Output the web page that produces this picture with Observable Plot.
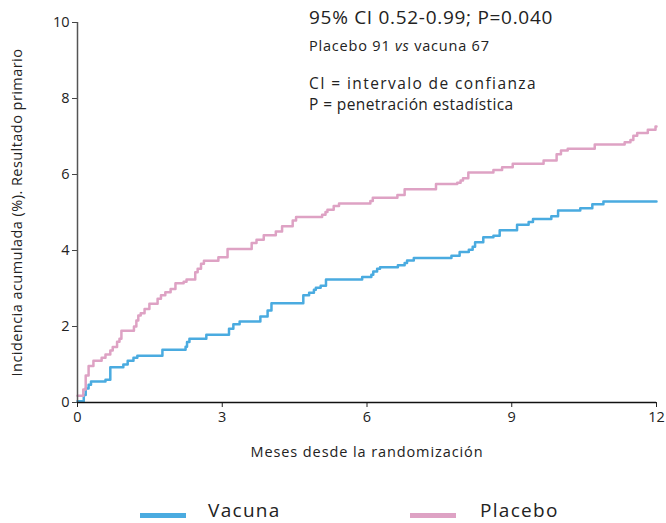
<!DOCTYPE html>
<html>
<head>
<meta charset="utf-8">
<script src="https://cdn.jsdelivr.net/npm/d3@7"></script>
<script src="https://cdn.jsdelivr.net/npm/@observablehq/plot@0.6"></script>
<style>
  html, body { margin: 0; padding: 0; background: #fff; overflow: hidden; }
  #wrap { position: relative; width: 666px; height: 523px; font-family: "Open Sans", sans-serif; color: #222; }
  #notes { position: absolute; left: 309px; top: 4px; line-height: 1; }
  #notes .l1 { font-size: 19px; position: absolute; top: 4px; white-space: nowrap; letter-spacing: 0.7px; }
  #notes .l2 { font-size: 14.5px; position: absolute; top: 35px; white-space: nowrap; letter-spacing: 0.8px; }
  #notes .l3 { font-size: 15.5px; position: absolute; top: 72px; white-space: nowrap; letter-spacing: 1.4px; }
  #notes .l4 { font-size: 15.5px; position: absolute; top: 93px; white-space: nowrap; letter-spacing: 0.4px; }
  .leg { position: absolute; top: 500px; font-size: 19px; white-space: nowrap; line-height: 21px; letter-spacing: 1.3px; }
  .sw { position: absolute; top: 513px; width: 46px; height: 5px; }
</style>
</head>
<body>
<div id="wrap">
  <div id="chart"></div>
  <div id="notes">
    <div class="l1">95% CI 0.52-0.99; P=0.040</div>
    <div class="l2">Placebo 91 <i>vs</i> vacuna 67</div>
    <div class="l3">CI = intervalo de confianza</div>
    <div class="l4">P = penetración estadística</div>
  </div>
  <div id="legend"></div>
</div>
<script>
const seriesNames = ["Vacuna", "Placebo"];
const seriesColors = ["#4aabe0", "#dea2c4"];

const vacunaMonths = [0, 0.13, 0.17, 0.23, 0.28, 0.58, 0.68, 0.95, 1.04, 1.16, 1.24, 1.76, 2.24, 2.27, 2.32, 2.67, 3.14, 3.23, 3.36, 3.79, 3.94, 4.02, 4.68, 4.80, 4.90, 4.94, 5.04, 5.15, 5.90, 6.09, 6.13, 6.21, 6.27, 6.64, 6.78, 6.83, 6.97, 7.75, 7.92, 8.11, 8.19, 8.24, 8.41, 8.62, 8.75, 9.11, 9.35, 9.44, 9.82, 9.96, 10.42, 10.67, 10.90, 12];
const vacunaValues = [0.03, 0.2, 0.37, 0.47, 0.55, 0.6, 0.93, 1.0, 1.1, 1.18, 1.23, 1.39, 1.47, 1.59, 1.68, 1.78, 1.94, 2.06, 2.13, 2.26, 2.42, 2.61, 2.82, 2.89, 2.97, 3.02, 3.07, 3.24, 3.3, 3.36, 3.45, 3.52, 3.56, 3.61, 3.67, 3.74, 3.80, 3.86, 3.96, 4.02, 4.1, 4.22, 4.35, 4.39, 4.53, 4.68, 4.75, 4.83, 4.9, 5.05, 5.11, 5.22, 5.29, 5.29];

const placeboMonths = [0, 0.12, 0.17, 0.23, 0.33, 0.50, 0.58, 0.68, 0.73, 0.82, 0.87, 0.91, 1.17, 1.22, 1.26, 1.31, 1.39, 1.49, 1.66, 1.73, 1.82, 1.93, 2.03, 2.20, 2.26, 2.44, 2.49, 2.56, 2.62, 2.92, 3.11, 3.61, 3.71, 3.86, 4.11, 4.24, 4.46, 4.53, 5.07, 5.14, 5.18, 5.31, 5.42, 6.07, 6.12, 6.63, 6.78, 7.43, 7.87, 7.94, 7.99, 8.10, 8.62, 8.80, 9.02, 9.66, 9.93, 10.02, 10.16, 10.72, 11.34, 11.46, 11.52, 11.60, 11.82, 11.98, 12];
const placeboValues = [0.18, 0.34, 0.71, 0.96, 1.1, 1.18, 1.26, 1.37, 1.46, 1.6, 1.68, 1.89, 2.0, 2.16, 2.29, 2.35, 2.46, 2.6, 2.73, 2.82, 2.9, 2.99, 3.14, 3.18, 3.24, 3.43, 3.52, 3.65, 3.73, 3.82, 4.04, 4.2, 4.28, 4.4, 4.5, 4.64, 4.79, 4.88, 4.94, 5.01, 5.07, 5.17, 5.24, 5.3, 5.39, 5.46, 5.61, 5.75, 5.78, 5.84, 5.9, 6.05, 6.12, 6.19, 6.28, 6.37, 6.53, 6.63, 6.68, 6.79, 6.85, 6.91, 7.02, 7.09, 7.18, 7.26, 7.26];

const xTicks = [0, 3, 6, 9, 12];
const yTicks = [0, 2, 4, 6, 8, 10];
const xLabel = "Meses desde la randomización";
const yLabel = "Incidencia acumulada (%). Resultado primario";

const data = [
  ...vacunaMonths.map((m, i) => ({serie: seriesNames[0], m, v: vacunaValues[i]})),
  ...placeboMonths.map((m, i) => ({serie: seriesNames[1], m, v: placeboValues[i]}))
];

const chart = Plot.plot({
  width: 666,
  height: 470,
  marginLeft: 77,
  marginRight: 10,
  marginTop: 22,
  marginBottom: 68,
  style: {fontFamily: "Open Sans, sans-serif", fontSize: "14.5px", color: "#222", background: "white"},
  x: {domain: [0, 12]},
  y: {domain: [0, 10]},
  color: {domain: seriesNames, range: seriesColors},
  marks: [
    Plot.axisX({ticks: xTicks, tickSize: 5, tickPadding: 4, label: null, stroke: "#222"}),
    Plot.axisY({ticks: yTicks, tickSize: 5, tickPadding: 3, label: null, stroke: "#444"}),
    Plot.line(data, {x: "m", y: "v", z: "serie", stroke: "serie", strokeWidth: 2.5, curve: "step-after"}),
    Plot.ruleX([0], {stroke: "#555", strokeWidth: 1.5}),
    Plot.ruleY([0], {stroke: "#111", strokeWidth: 1.5}),
    Plot.text([xLabel], {frameAnchor: "bottom", dy: 50, lineAnchor: "middle", fontSize: 14.5}),
    Plot.text([yLabel], {frameAnchor: "left", rotate: -90, dx: -60, textAnchor: "middle", lineAnchor: "middle", fontSize: 14.5})
  ]
});
// letter spacing for the axis titles (wider reference typeface)
chart.querySelectorAll("text").forEach(t => {
  if (t.textContent === xLabel) t.setAttribute("letter-spacing", "0.9");
  if (t.textContent === yLabel) t.setAttribute("letter-spacing", "0.45");
});
document.getElementById("chart").appendChild(chart);

const legend = document.getElementById("legend");
const legPos = [{sw: 140, tx: 208}, {sw: 410, tx: 480}];
seriesNames.forEach((name, i) => {
  const sw = document.createElement("div");
  sw.className = "sw";
  sw.style.left = legPos[i].sw + "px";
  sw.style.background = seriesColors[i];
  legend.appendChild(sw);
  const tx = document.createElement("div");
  tx.className = "leg";
  tx.style.left = legPos[i].tx + "px";
  tx.textContent = name;
  legend.appendChild(tx);
});
</script>
</body>
</html>
